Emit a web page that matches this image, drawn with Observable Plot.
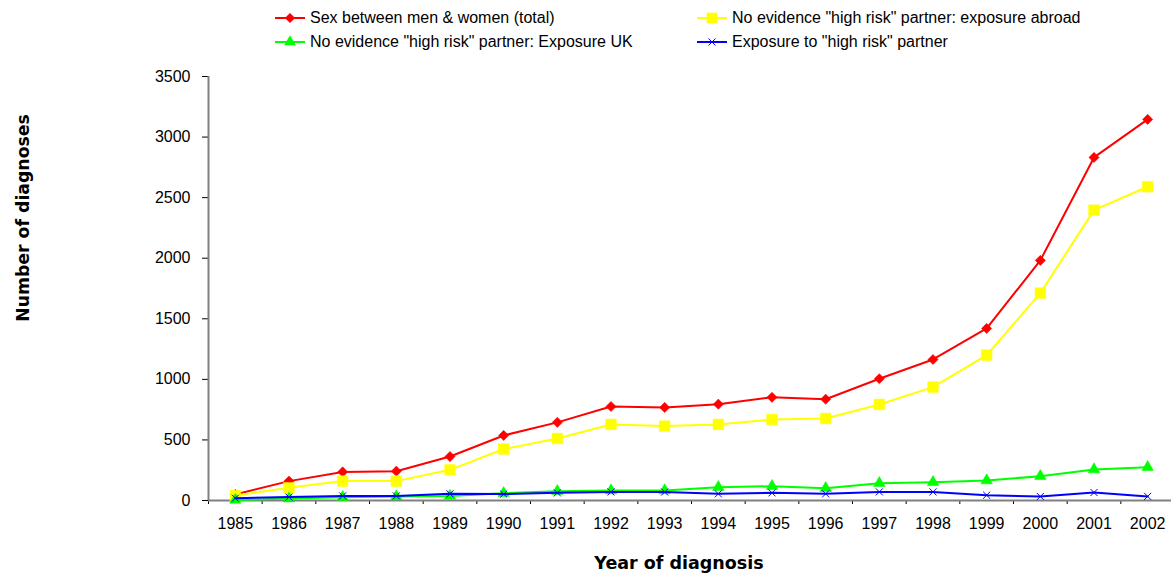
<!DOCTYPE html>
<html>
<head>
<meta charset="utf-8">
<script src="https://cdn.jsdelivr.net/npm/d3@7"></script>
<script src="https://cdn.jsdelivr.net/npm/@observablehq/plot@0.6"></script>
<style>
  html, body { margin: 0; padding: 0; background: white; }
  #wrap { position: relative; width: 1171px; height: 576px; font-family: "Liberation Sans", Arial, sans-serif; }
  .leg { position: absolute; display: flex; align-items: center; font-size: 16px; color: #000; white-space: nowrap; line-height: 16px; }
  .leg svg { margin-right: 4px; }
  .ytitle { position: absolute; left: 23px; top: 218px; transform: translate(-50%, -50%) rotate(-90deg); font-family: "DejaVu Sans", Verdana, sans-serif; font-weight: bold; font-size: 17.3px; white-space: nowrap; }
  .xtitle { position: absolute; left: 679px; top: 563px; transform: translate(-50%, -50%); font-family: "DejaVu Sans", Verdana, sans-serif; font-weight: bold; font-size: 17.5px; white-space: nowrap; }
</style>
</head>
<body>
<div id="wrap"></div>
<script>
const years = [1985,1986,1987,1988,1989,1990,1991,1992,1993,1994,1995,1996,1997,1998,1999,2000,2001,2002];
const seriesNames = [
  "Sex between men & women (total)",
  "No evidence \"high risk\" partner: exposure abroad",
  "No evidence \"high risk\" partner: Exposure UK",
  "Exposure to \"high risk\" partner"
];
const totalMW   = [50,160,236,242,363,537,645,776,768,795,852,836,1005,1164,1420,1982,2832,3146];
const abroad    = [41,105,160,160,253,425,512,628,614,628,669,677,793,936,1200,1712,2397,2590];
const exposureUK= [5,16,27,33,38,60,77,83,83,110,118,102,143,151,165,201,256,275];
const highRisk  = [19,28,38,38,55,53,63,71,70,55,63,55,71,71,44,33,66,34];
const yTicks = [0,500,1000,1500,2000,2500,3000,3500];
const seriesColors = ["#FF0000","#FFFF00","#00FF00","#0000FF"];
const seriesSymbols = ["diamond2","square","triangle","times"];
const seriesR = [4.6,6.0,4.3,3.3];

const seriesValues = [totalMW, abroad, exposureUK, highRisk];
const data = seriesNames.flatMap((s, i) => years.map((yr, j) => ({series: s, year: yr, value: seriesValues[i][j]})));

const seriesMarks = seriesNames.flatMap((s, i) => {
  const d = data.filter(r => r.series === s);
  const isStroke = seriesSymbols[i] === "times";
  return [
    Plot.line(d, {x: "year", y: "value", stroke: seriesColors[i], strokeWidth: 2}),
    Plot.dot(d, {x: "year", y: "value", symbol: () => seriesSymbols[i], r: seriesR[i],
      fill: isStroke ? "none" : seriesColors[i], stroke: seriesColors[i], strokeWidth: isStroke ? 1 : 0.5})
  ];
});

const boundaries = years.map(y => y - 0.5).concat([years[years.length - 1] + 0.5]);

const chart = Plot.plot({
  width: 1171,
  height: 576,
  marginTop: 76, marginBottom: 76, marginLeft: 208, marginRight: 0,
  x: {type: "linear", domain: [years[0] - 0.5, years[years.length - 1] + 0.5], range: [208, 1174]},
  y: {domain: [0, 3500], range: [500, 76]},
  style: {fontFamily: "\"Liberation Sans\", Arial, sans-serif", fontSize: "16px", background: "white", overflow: "visible", color: "#000"},
  marks: [
    Plot.axisY({ticks: yTicks, tickSize: 6, tickPadding: 12, tickFormat: d => String(d), label: null, fontSize: 16}),
    Plot.axisX({ticks: years, tickSize: 0, tickPadding: 17, tickFormat: d => String(d), label: null, fontSize: 16}),
    Plot.axisX({ticks: boundaries, tickSize: 4, tickFormat: () => "", label: null}),
    Plot.ruleX([years[0] - 0.5], {stroke: "#808080", strokeWidth: 2}),
    Plot.ruleY([0], {stroke: "#808080", strokeWidth: 2}),
    ...seriesMarks
  ]
});

const wrap = document.getElementById("wrap");
wrap.appendChild(chart);
chart.style.position = "absolute";
chart.style.left = "0";
chart.style.top = "0";

// Legend
const legPos = [[274, 18], [696, 18], [274, 42], [696, 42]];
function swatch(i) {
  const ns = "http://www.w3.org/2000/svg";
  const svg = document.createElementNS(ns, "svg");
  svg.setAttribute("width", 32); svg.setAttribute("height", 14);
  const line = document.createElementNS(ns, "line");
  line.setAttribute("x1", 1); line.setAttribute("x2", 31); line.setAttribute("y1", 7); line.setAttribute("y2", 7);
  line.setAttribute("stroke", seriesColors[i]); line.setAttribute("stroke-width", 2);
  svg.appendChild(line);
  const p = document.createElementNS(ns, "path");
  const symMap = {diamond2: d3.symbolDiamond2, square: d3.symbolSquare, triangle: d3.symbolTriangle, times: d3.symbolTimes};
  const r = seriesR[i];
  p.setAttribute("d", d3.symbol(symMap[seriesSymbols[i]], Math.PI * r * r)());
  p.setAttribute("transform", "translate(16,7)");
  if (seriesSymbols[i] === "times") { p.setAttribute("fill", "none"); p.setAttribute("stroke", seriesColors[i]); }
  else { p.setAttribute("fill", seriesColors[i]); }
  svg.appendChild(p);
  return svg;
}
seriesNames.forEach((s, i) => {
  const div = document.createElement("div");
  div.className = "leg";
  div.style.left = legPos[i][0] + "px";
  div.style.top = (legPos[i][1] - 8) + "px";
  div.appendChild(swatch(i));
  const span = document.createElement("span");
  span.textContent = s;
  div.appendChild(span);
  wrap.appendChild(div);
});

const yt = document.createElement("div");
yt.className = "ytitle"; yt.textContent = "Number of diagnoses";
wrap.appendChild(yt);
const xt = document.createElement("div");
xt.className = "xtitle"; xt.textContent = "Year of diagnosis";
wrap.appendChild(xt);
</script>
</body>
</html>
